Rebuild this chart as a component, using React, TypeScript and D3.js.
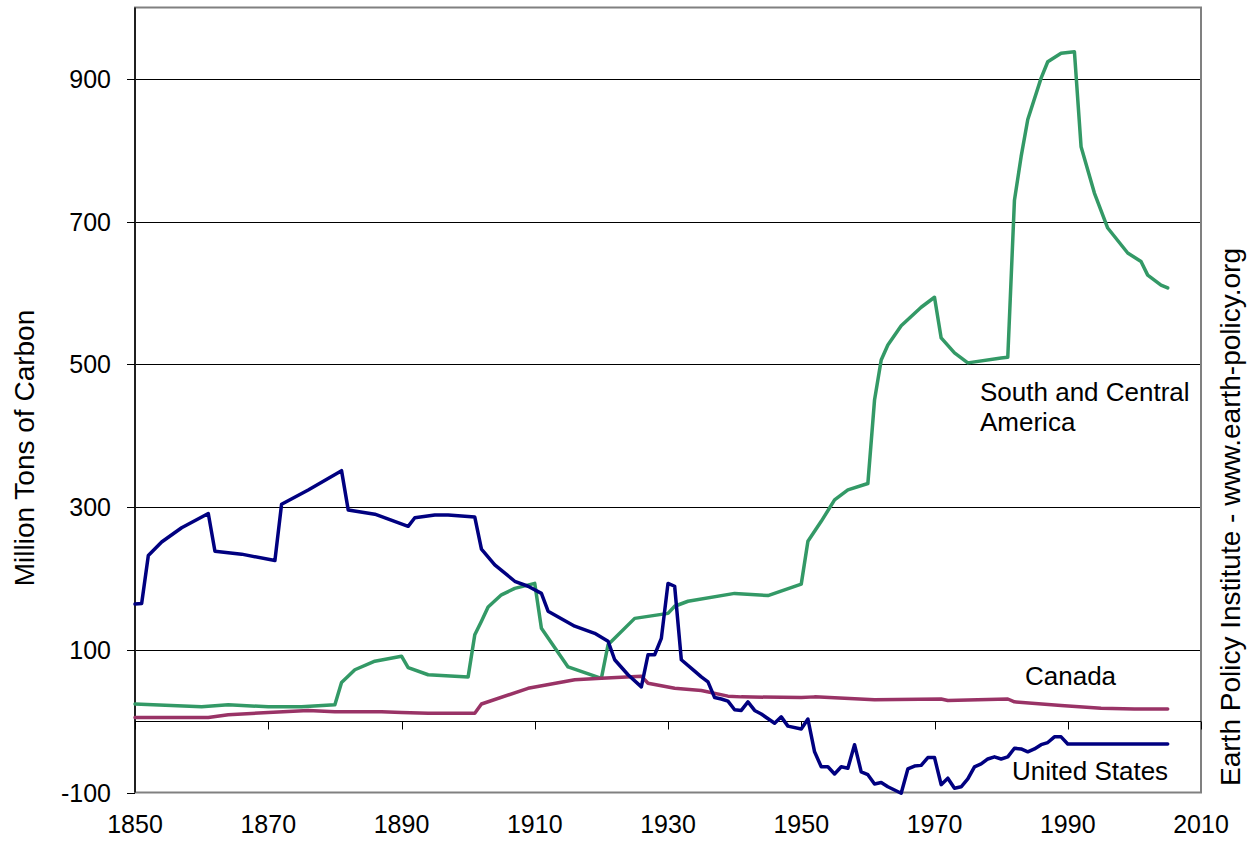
import React from "react";
import * as d3 from "d3";

// ---- Data (million tons of carbon, net emissions from land-use change) ----
const usYears = [1850, 1851, 1852, 1854, 1857, 1861, 1862, 1866, 1871, 1872, 1876, 1881, 1882, 1886, 1891, 1892, 1895, 1897, 1901, 1902, 1904, 1907, 1909, 1911, 1912, 1916, 1919, 1921, 1922, 1924, 1926, 1927, 1928, 1929, 1930, 1931, 1932, 1934, 1935, 1936, 1937, 1938, 1939, 1940, 1941, 1942, 1943, 1944, 1946, 1947, 1948, 1950, 1951, 1952, 1953, 1954, 1955, 1956, 1957, 1958, 1959, 1960, 1961, 1962, 1963, 1965, 1966, 1967, 1968, 1969, 1970, 1971, 1972, 1973, 1974, 1975, 1976, 1977, 1978, 1979, 1980, 1981, 1982, 1983, 1984, 1985, 1986, 1987, 1988, 1989, 1990, 2005];
const usValues = [164, 165, 232, 251, 271, 291, 238, 234, 225, 304, 324, 351, 296, 290, 273, 285, 289, 289, 286, 241, 219, 196, 189, 179, 154, 133, 123, 112, 86, 65, 48, 93, 93, 116, 193, 189, 86, 70, 62, 55, 33, 31, 28, 16, 15, 27, 15, 10, -3, 6, -7, -11, 3, -43, -64, -64, -74, -64, -66, -33, -71, -75, -88, -86, -92, -101, -67, -63, -62, -51, -51, -89, -80, -94, -92, -81, -64, -60, -53, -50, -53, -50, -38, -39, -43, -39, -33, -30, -22, -22, -32, -32];

const canadaYears = [1850, 1861, 1864, 1870, 1876, 1880, 1887, 1890, 1894, 1901, 1902, 1909, 1916, 1920, 1926, 1927, 1931, 1935, 1939, 1941, 1950, 1952, 1961, 1971, 1972, 1981, 1982, 1989, 1995, 2000, 2005];
const canadaValues = [5, 5, 9, 12, 15, 13, 13, 12, 11, 11, 24, 46, 58, 60, 63, 53, 46, 43, 35, 34, 33, 34, 30, 31, 29, 31, 27, 22, 18, 17, 17];

const scaYears = [1850, 1860, 1864, 1870, 1875, 1880, 1881, 1883, 1886, 1890, 1891, 1894, 1900, 1901, 1902, 1903, 1905, 1907, 1910, 1911, 1915, 1920, 1921, 1925, 1930, 1931, 1933, 1940, 1945, 1950, 1951, 1953, 1955, 1957, 1960, 1961, 1962, 1963, 1965, 1968, 1970, 1971, 1973, 1975, 1980, 1981, 1982, 1983, 1984, 1986, 1987, 1989, 1991, 1992, 1994, 1996, 1999, 2001, 2002, 2004, 2005];
const scaValues = [24, 20, 23, 20, 20, 23, 54, 72, 84, 91, 75, 65, 62, 121, 140, 160, 177, 186, 193, 130, 76, 60, 107, 144, 151, 161, 168, 179, 176, 192, 252, 280, 310, 324, 333, 450, 506, 527, 554, 580, 594, 537, 516, 502, 509, 510, 730, 791, 843, 901, 924, 936, 938, 805, 740, 691, 656, 644, 625, 611, 607];

const xTicks = [1850, 1870, 1890, 1910, 1930, 1950, 1970, 1990, 2010];
const yTicks = [-100, 100, 300, 500, 700, 900];

const yTitle = "Million Tons of Carbon";
const sourceText = "Earth Policy Institute - www.earth-policy.org";

const W = 1249;
const H = 842;
const M = { left: 135, right: 1201, top: 7.5, bottom: 792.5 };
const FONT = "'Liberation Sans', Arial, Helvetica, sans-serif";

export default function App() {
  const x = d3.scaleLinear().domain([1850, 2010]).range([M.left, M.right]);
  const y = d3.scaleLinear().domain([-100, 1000]).range([M.bottom, M.top]);

  const line = d3
    .line<[number, number]>()
    .x((d) => x(d[0]))
    .y((d) => y(d[1]));

  const zip = (a: number[], b: number[]) => a.map((v, i) => [v, b[i]] as [number, number]);

  const series = [
    { name: "South and Central America", color: "#339966", data: zip(scaYears, scaValues) },
    { name: "Canada", color: "#993366", data: zip(canadaYears, canadaValues) },
    { name: "United States", color: "#000080", data: zip(usYears, usValues) },
  ];

  const y0 = Math.round(y(0)) + 0.5;

  return (
    <svg
      width={W}
      height={H}
      style={{ position: "absolute", left: 0, top: 0, display: "block", background: "#fff" }}
      fontFamily={FONT}
    >
      <rect x={0} y={0} width={W} height={H} fill="#fff" />
      {/* gridlines */}
      {yTicks.filter((t) => t !== -100).map((t) => (
        <line
          key={"g" + t}
          x1={M.left}
          x2={M.right}
          y1={Math.round(y(t)) + 0.5}
          y2={Math.round(y(t)) + 0.5}
          stroke="#000"
          strokeWidth={1}
        />
      ))}
      {/* plot border */}
      <rect
        x={M.left}
        y={M.top}
        width={M.right - M.left}
        height={M.bottom - M.top}
        fill="none"
        stroke="#808080"
        strokeWidth={2}
      />
      {/* y axis line */}
      <line x1={M.left} x2={M.left} y1={M.top} y2={M.bottom} stroke="#000" strokeWidth={1.5} />
      {/* y ticks & labels */}
      {yTicks.map((t) => (
        <g key={"y" + t}>
          <line x1={M.left - 8} x2={M.left} y1={Math.round(y(t)) + 0.5} y2={Math.round(y(t)) + 0.5} stroke="#000" strokeWidth={1} />
          <text x={111} y={y(t)} dy="0.36em" textAnchor="end" fontSize={25} fill="#000">
            {t}
          </text>
        </g>
      ))}
      {/* x axis at zero */}
      <line x1={M.left} x2={M.right} y1={y0} y2={y0} stroke="#000" strokeWidth={1} />
      {xTicks.map((t) => (
        <g key={"x" + t}>
          <line x1={Math.round(x(t)) + 0.5} x2={Math.round(x(t)) + 0.5} y1={y0} y2={y0 + 8} stroke="#000" strokeWidth={1} />
          <text x={x(t)} y={833} textAnchor="middle" fontSize={25} fill="#000">
            {t}
          </text>
        </g>
      ))}
      {/* series */}
      {series.map((s) => (
        <path
          key={s.name}
          d={line(s.data) || ""}
          fill="none"
          stroke={s.color}
          strokeWidth={3.5}
          strokeLinejoin="round"
          strokeLinecap="round"
        />
      ))}
      {/* annotations */}
      <text x={980} y={401} fontSize={26} fill="#000">South and Central</text>
      <text x={980} y={431} fontSize={26} fill="#000">America</text>
      <text x={1025} y={685} fontSize={26} fill="#000">Canada</text>
      <text x={1012} y={780} fontSize={26} fill="#000">United States</text>
      {/* axis title */}
      <text transform={`translate(34, 448) rotate(-90)`} textAnchor="middle" fontSize={28} fill="#000">
        {yTitle}
      </text>
      {/* source */}
      <text transform={`translate(1240, 517) rotate(-90)`} textAnchor="middle" fontSize={28} fill="#000">
        {sourceText}
      </text>
    </svg>
  );
}
